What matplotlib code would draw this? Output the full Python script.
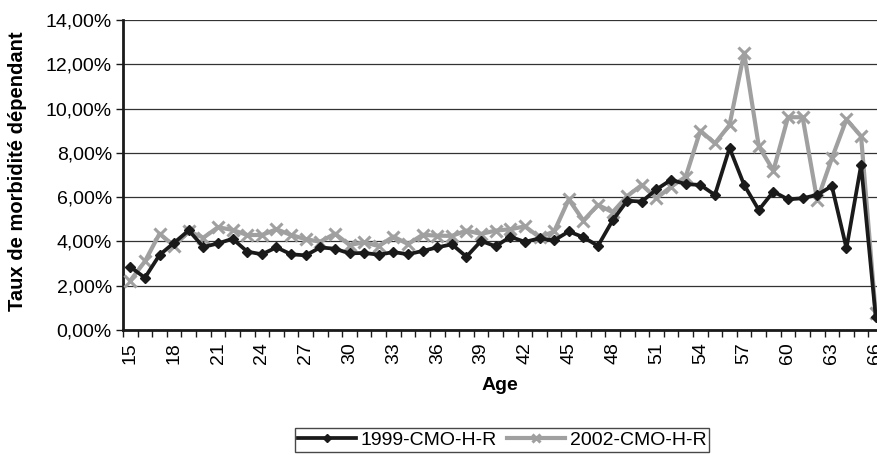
import matplotlib
matplotlib.use("Agg")
import matplotlib.pyplot as plt
from matplotlib.ticker import FuncFormatter, FixedLocator

plt.rcParams['font.family'] = ['Liberation Sans', 'DejaVu Sans']

ages = list(range(15, 67))
s1999 = [2.85, 2.36, 3.39, 3.94, 4.50, 3.75, 3.91, 4.12, 3.54, 3.42,
         3.73, 3.42, 3.37, 3.73, 3.67, 3.46, 3.48, 3.40, 3.52, 3.42,
         3.57, 3.73, 3.87, 3.31, 4.02, 3.78, 4.21, 3.98, 4.14, 4.05,
         4.45, 4.19, 3.80, 4.95, 5.84, 5.80, 6.35, 6.78, 6.59, 6.55,
         6.10, 8.22, 6.55, 5.42, 6.25, 5.90, 5.95, 6.10, 6.50, 3.69,
         7.45, 0.60]
s2002 = [2.23, 3.10, 4.35, 3.80, 4.45, 4.17, 4.64, 4.52, 4.29, 4.29,
         4.55, 4.29, 4.10, 3.99, 4.35, 3.84, 3.96, 3.79, 4.22, 3.88,
         4.30, 4.26, 4.25, 4.49, 4.34, 4.49, 4.55, 4.68, 4.19, 4.45,
         5.90, 4.94, 5.65, 5.32, 6.05, 6.55, 5.95, 6.47, 6.92, 9.00,
         8.43, 9.26, 12.52, 8.30, 7.20, 9.61, 9.61, 5.85, 7.75, 9.51,
         8.75, 0.75]
label_ages = list(range(15, 67, 3))
series_names = ["1999-CMO-H-R", "2002-CMO-H-R"]

W, H = 878, 455
fig = plt.figure(figsize=(W / 100, H / 100), dpi=100)
ax = fig.add_axes([123 / W, (H - 330) / H, 760 / W, 310 / H])

black = "#1a1a1a"
gray = "#a0a0a0"

ax.plot(ages, [v / 100 for v in s2002], color=gray, lw=3.0, marker="x",
        ms=8, mew=2.2, mec=gray, label=series_names[1], zorder=3)
ax.plot(ages, [v / 100 for v in s1999], color=black, lw=2.7, marker="D",
        ms=5.5, mec=black, mfc=black, label=series_names[0], zorder=4)

ax.set_xlim(14.5, 66.5)
ax.set_ylim(0, 0.14)
ax.set_yticks([i * 0.02 for i in range(8)])
ax.yaxis.set_major_formatter(FuncFormatter(lambda v, p: f"{v*100:.2f}".replace(".", ",") + "%"))
ax.yaxis.grid(True, color="#333333", lw=0.9)
ax.set_axisbelow(True)

ax.xaxis.set_major_locator(FixedLocator(label_ages))
ax.xaxis.set_minor_locator(FixedLocator([a - 0.5 for a in ages] + [66.5]))
ax.tick_params(axis="x", which="major", length=0, labelsize=14, rotation=90, pad=9)
ax.tick_params(axis="x", which="minor", length=5, width=1, color=black, direction="out")
ax.tick_params(axis="y", which="major", length=5, width=1, color=black, labelsize=14, pad=3)

for s in ["top", "right"]:
    ax.spines[s].set_visible(False)
ax.spines["left"].set_linewidth(2)
ax.spines["bottom"].set_linewidth(2)
ax.spines["left"].set_color(black)
ax.spines["bottom"].set_color(black)

fig.text(18 / W, 1 - 171 / H, "Taux de morbidité dépendant", rotation=90,
         ha="center", va="center", fontsize=14.5, fontweight="bold")
fig.text(500 / W, 1 - 386 / H, "Age", ha="center", va="center",
         fontsize=14, fontweight="bold")

handles, labels = ax.get_legend_handles_labels()
leg = fig.legend(handles[::-1], labels[::-1], loc="center",
                 bbox_to_anchor=(502 / W, 1 - 440 / H), ncol=2,
                 fontsize=14, frameon=True, fancybox=False, edgecolor=black,
                 handlelength=3.0, handletextpad=0.25, columnspacing=0.5,
                 borderpad=0.15, markerscale=0.8)
leg.get_frame().set_linewidth(1.0)

fig.savefig("out.png", dpi=100)
